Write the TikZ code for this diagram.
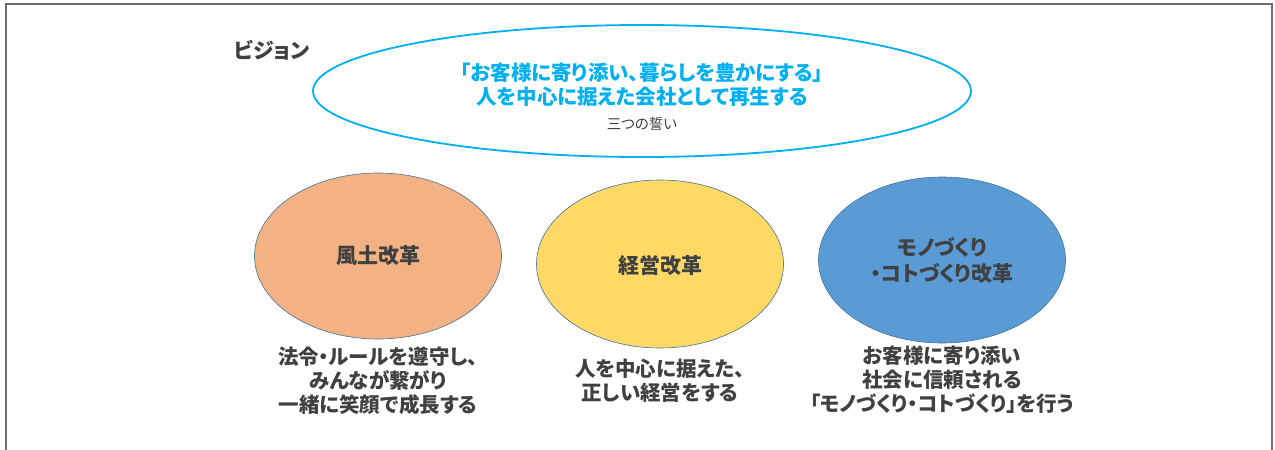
\documentclass[tikz,border=0pt]{standalone}
\usepackage{fontspec}
\setmainfont[RawFeature={+palt}]{Noto Sans CJK JP}
\usetikzlibrary{shapes.geometric}
\definecolor{frame}{HTML}{6E6E6E}
\definecolor{vcyan}{HTML}{00B0F0}
\definecolor{txt}{HTML}{404040}
\definecolor{cOrange}{HTML}{F4B183}
\definecolor{cYellow}{HTML}{FFD966}
\definecolor{cBlue}{HTML}{5B9BD5}
\definecolor{edge}{HTML}{41719C}
\tikzset{
  pill/.style={ellipse, draw=edge, line width=0.6pt, inner sep=0pt},
  lbl/.style={text=txt, font=\fontsize{21}{26}\selectfont\bfseries, align=center},
  desc/.style={text=txt, font=\fontsize{20.5}{24}\selectfont\bfseries, align=center},
}
\begin{document}
\begin{tikzpicture}[x=1pt,y=-1pt]
\useasboundingbox (0,0) rectangle (1275,450);
\draw[frame, line width=1.5pt] (6,460) -- (6,4) -- (1272,4) -- (1272,460);
\node[text=txt, font=\fontsize{21}{24}\selectfont\bfseries] (vision) at (272,50) {ビジョン};
\node[ellipse, draw=vcyan, line width=1.8pt, minimum width=658pt, minimum height=132pt, inner sep=0pt] (top) at (642,91) {};
\node[text=vcyan, font=\fontsize{20.5}{24}\selectfont\bfseries, align=center] (vt) at (642,85) {「お客様に寄り添い、暮らしを豊かにする」\\人を中心に据えた会社として再生する};
\node[text=txt, font=\fontsize{14.5}{16}\selectfont] (vow) at (642,124) {三つの誓い};
\node[pill, fill=cOrange, minimum width=247pt, minimum height=166pt] (e1) at (378,256) {};
\node[pill, fill=cYellow, minimum width=247pt, minimum height=168pt] (e2) at (660,264) {};
\node[pill, fill=cBlue, minimum width=247pt, minimum height=166pt] (e3) at (942,260) {};
\node[lbl] (l1) at (e1) {風土改革};
\node[lbl] (l2) at (660,266) {経営改革};
\node[lbl] (l3) at (942,260) {モノづくり\\・コトづくり改革};
\node[desc] (d1) at (378,381) {法令・ルールを遵守し、\\みんなが繋がり\\一緒に笑顔で成長する};
\node[desc] (d2) at (660,381) {人を中心に据えた、\\正しい経営をする};
\node[desc] (d3) at (942,380) {お客様に寄り添い\\社会に信頼される\\「モノづくり・コトづくり」を行う};
\end{tikzpicture}
\end{document}
